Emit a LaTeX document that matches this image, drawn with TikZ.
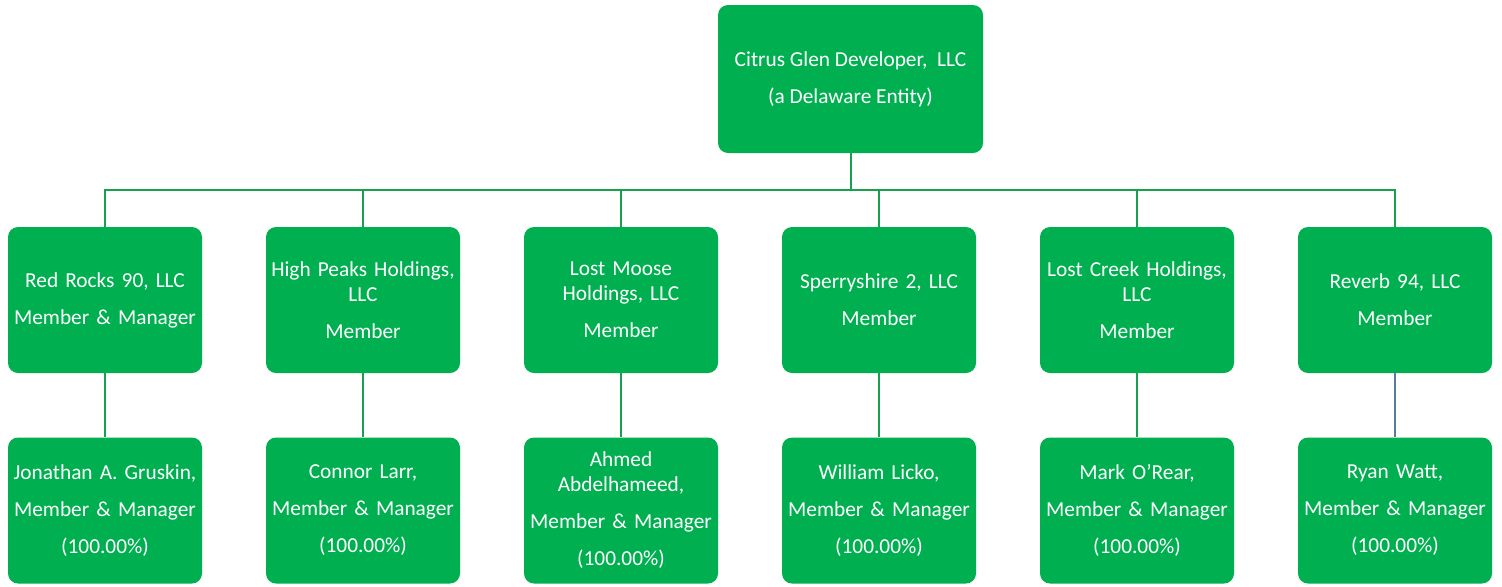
\documentclass[tikz,border=0pt]{standalone}
\usepackage{fontspec}
\setmainfont{Carlito}
\definecolor{boxgreen}{RGB}{0,176,80}
\definecolor{linegreen}{RGB}{24,160,78}
\definecolor{lineblue}{RGB}{88,124,160}
\tikzstyle{entity} = [draw=none, fill=boxgreen, rounded corners=7.5pt, text=white, align=center, inner sep=1pt, font=\fontsize{16}{18.75}\selectfont]
\tikzstyle{member} = [entity, minimum width=145.5pt, minimum height=109.5pt, text width=140pt]
\tikzstyle{bus} = [linegreen, line width=1.5pt]
\tikzstyle{own} = [linegreen, line width=2.2pt]

\begin{document}
\begin{tikzpicture}[x=0.75pt, y=-0.75pt]
                \useasboundingbox (0,0) rectangle (1502,586);
                \node[entity, minimum width=198.75pt, minimum height=111pt] (dev) at (850.5,79)
                    {Citrus Glen Developer,\ \ LLC\\[9pt](a Delaware Entity)};
                \coordinate (bus) at (850.5,190);
                \draw[bus] (dev.south) -- (bus);

                \foreach \i/\x/\m/\p in {
                    1/105/{Red Rocks 90, LLC\\[9pt]Member \& Manager}/{Jonathan A. Gruskin,\\[9pt]Member \& Manager\\[9pt](100.00\%)},
                    2/363/{High Peaks Holdings,\\LLC\\[9pt]Member}/{Connor Larr,\\[9pt]Member \& Manager\\[9pt](100.00\%)},
                    3/621/{Lost Moose\\Holdings, LLC\\[9pt]Member}/{Ahmed\\Abdelhameed,\\[9pt]Member \& Manager\\[9pt](100.00\%)},
                    4/879/{Sperryshire 2, LLC\\[9pt]Member}/{William Licko,\\[9pt]Member \& Manager\\[9pt](100.00\%)},
                    5/1137/{Lost Creek Holdings,\\LLC\\[9pt]Member}/{Mark O'Rear,\\[9pt]Member \& Manager\\[9pt](100.00\%)},
                    6/1395/{Reverb 94, LLC\\[9pt]Member}/{Ryan Watt,\\[9pt]Member \& Manager\\[9pt](100.00\%)}} {
                    \node[member] (m\i) at (\x,300) {\m};
                    \node[member] (p\i) at (\x,510.5) {\p};
                    \draw[bus] (m\i.north) |- (bus);
                }

                \foreach \i in {1,...,5}
                \draw[own] (m\i.south) -- (p\i.north);
                \draw[own, lineblue, line width=1.8pt] (m6.south) -- (p6.north);
            \end{tikzpicture}
\end{document}
